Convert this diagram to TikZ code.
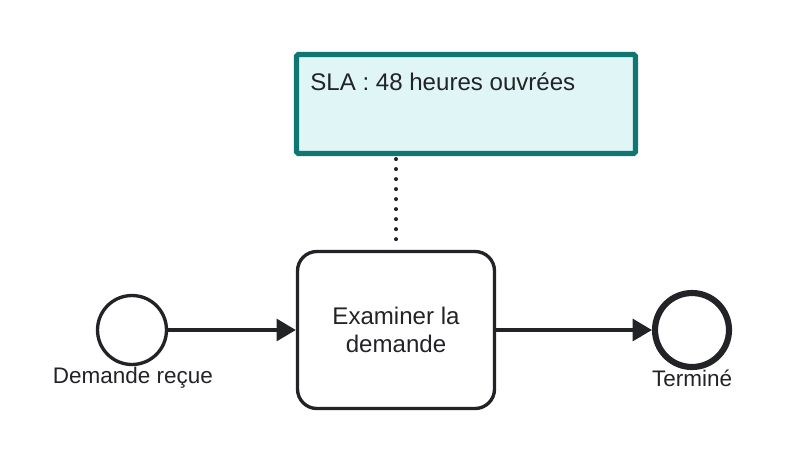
\documentclass[tikz,border=0pt]{standalone}
\usepackage{fontspec}
\setmainfont{Liberation Sans}
\usepackage{xcolor}
\usetikzlibrary{arrows.meta,calc}

\definecolor{ink}{HTML}{222326}
\definecolor{slaborder}{HTML}{0F7672}
\definecolor{slafill}{HTML}{E0F5F5}

\begin{document}
\begin{tikzpicture}[x=0.02cm,y=-0.02cm,
  event/.style={draw=ink,circle,inner sep=0pt,fill=white},
  flow/.style={draw=ink,line width=1.9pt,-{Triangle[length=11pt,width=12.5pt]}},
  lbl/.style={font=\fontsize{12.8}{15}\selectfont,text=ink},
  biglbl/.style={font=\fontsize{13.7}{15.9}\selectfont,text=ink}]

\useasboundingbox (0,0) rectangle (786,464);

% SLA annotation
\node[draw=slaborder,fill=slafill,line width=2.9pt,rounded corners=1pt,
  minimum width=6.78cm,minimum height=1.98cm] (sla) at (466,104) {};
\node[biglbl,anchor=west,inner sep=0pt] (slatext) at (310,82) {SLA : 48 heures ouvrées};

% Events
\node[event,line width=1.9pt,minimum size=1.38cm] (start) at (132,330) {};
\node[event,line width=3.5pt,minimum size=1.48cm] (end) at (692,330) {};
\node[lbl] (startlbl) at (133,378) {Demande reçue};
\node[lbl] (endlbl) at (692,378) {Terminé};

% Task
\node[draw=ink,line width=1.9pt,rounded corners=11pt,align=center,
  minimum width=3.94cm,minimum height=3.14cm,biglbl] (task) at (396,330)
  {Examiner la\\demande};

% Connectors
\draw[flow] (start) -- (task);
\draw[flow] (task) -- (end);
\coordinate (dtop) at (sla.south -| task.north);
\draw[ink,line width=2.3pt,line cap=round,dash pattern=on 0pt off 5.7pt]
  ($(dtop)+(0,3)$) -- ($(task.north)+(0,-8)$);

\end{tikzpicture}
\end{document}
